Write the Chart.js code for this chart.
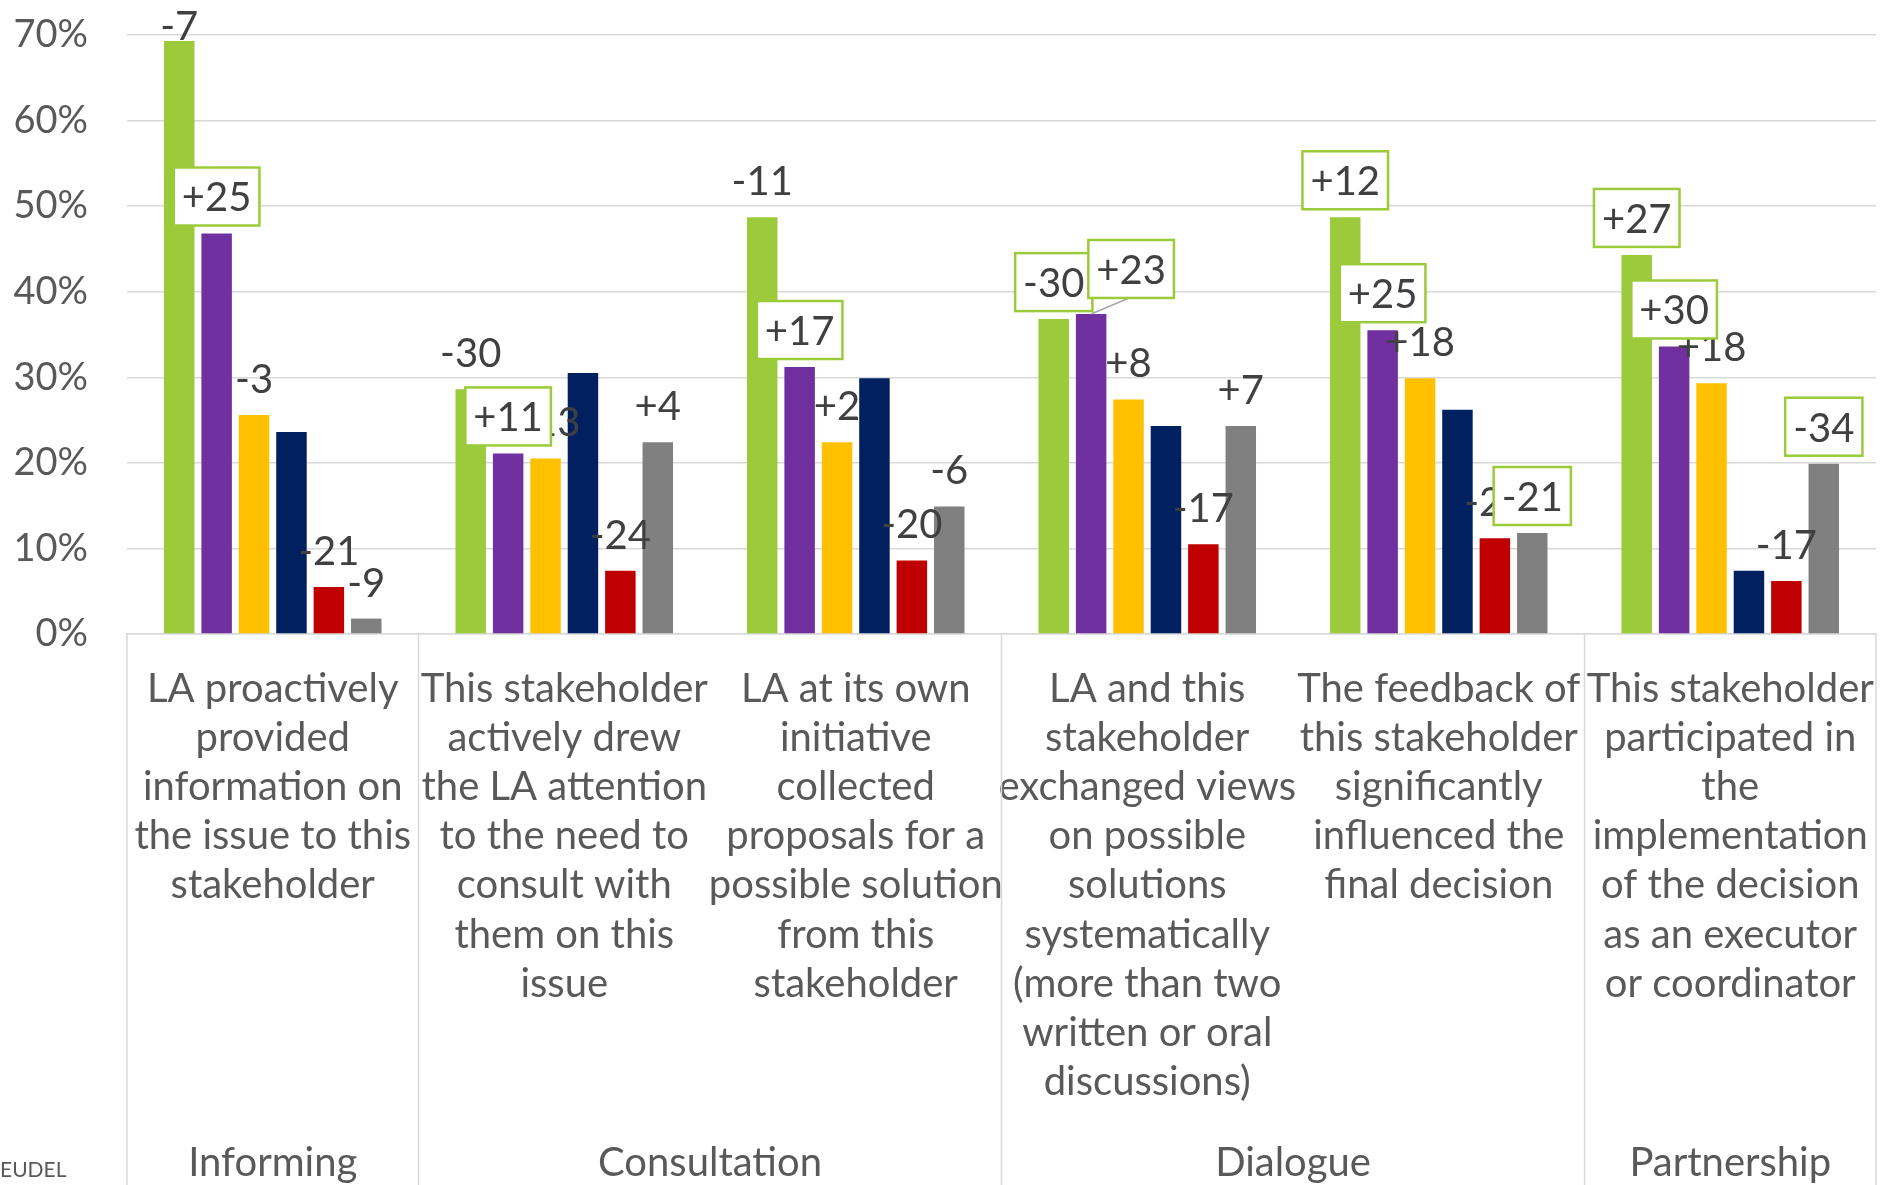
<!DOCTYPE html>
<html>
<head>
<meta charset="utf-8">
<script src="https://cdn.jsdelivr.net/npm/chart.js@4.4.0/dist/chart.umd.min.js"></script>
<style>
  html, body { margin: 0; padding: 0; background: #fff; }
  #wrap { width: 1882px; height: 1185px; position: relative; }
</style>
</head>
<body>
<div id="wrap"><canvas id="stakeholderChart"></canvas></div>
<script>
const categories = [
  ['LA proactively', 'provided', 'information on', 'the issue to this', 'stakeholder'],
  ['This stakeholder', 'actively drew', 'the LA attention', 'to the need to', 'consult with', 'them on this', 'issue'],
  ['LA at its own', 'initiative', 'collected', 'proposals for a', 'possible solution', 'from this', 'stakeholder'],
  ['LA and this', 'stakeholder', 'exchanged views', 'on possible', 'solutions', 'systematically', '(more than two', 'written or oral', 'discussions)'],
  ['The feedback of', 'this stakeholder', 'significantly', 'influenced the', 'final decision'],
  ['This stakeholder', 'participated in', 'the', 'implementation', 'of the decision', 'as an executor', 'or coordinator']
];

const groupNames = ['Informing', 'Consultation', 'Dialogue', 'Partnership'];
const groupSpans = [[0, 0], [1, 2], [3, 4], [5, 5]];

const yTicks = [0, 10, 20, 30, 40, 50, 60, 70];

// share of answers (%) per stakeholder series
const series1Values = [69.3, 28.6, 48.7, 36.8, 48.7, 44.3];
const series2Values = [46.8, 21.1, 31.2, 37.4, 35.5, 33.6];
const series3Values = [25.6, 20.5, 22.4, 27.4, 29.9, 29.3];
const series4Values = [23.6, 30.5, 29.9, 24.3, 26.2, 7.4];
const series5Values = [5.5, 7.4, 8.6, 10.5, 11.2, 6.2];
const series6Values = [1.8, 22.4, 14.9, 24.3, 11.8, 19.9];

// change in points shown above the bars
const series1Changes = ['-7', '-30', '-11', '-30', '+12', '+27'];
const series2Changes = ['+25', '+11', '+17', '+23', '+25', '+30'];
const series3Changes = ['-3', '+13', '+2', '+8', '+18', '+18'];
const series4Changes = [null, null, null, null, null, null];
const series5Changes = ['-21', '-24', '-20', '-17', '-23', '-17'];
const series6Changes = ['-9', '+4', '-6', '+7', '-21', '-34'];

const colors = {
  green: '#9BCB3B',
  purple: '#7030A0',
  yellow: '#FFC000',
  navy: '#002060',
  red: '#C00000',
  gray: '#808080',
  grid: '#D9D9D9',
  axisText: '#595959',
  labelText: '#404040'
};

const fontFamily = "Lato, 'Gill Sans', sans-serif";

// labels drawn inside a green frame: dataset index -> category indexes
const framedLabels = { 0: [3, 4, 5], 1: [0, 1, 2, 3, 4, 5], 5: [4, 5] };

// Change labels above bars
const changeLabels = {
  id: 'changeLabels',
  afterDatasetsDraw(chart) {
    const ctx = chart.ctx;
    const top = chart.chartArea.top;
    const framed = [];
    ctx.save();
    ctx.font = '40px ' + fontFamily;
    ctx.textAlign = 'center';
    ctx.textBaseline = 'middle';
    ctx.fillStyle = colors.labelText;

    chart.data.datasets.forEach((ds, di) => {
      const meta = chart.getDatasetMeta(di);
      meta.data.forEach((bar, i) => {
        const txt = ds.changes[i];
        if (!txt) return;
        let x = bar.x;
        let y = Math.max(bar.y - 37, top - 10);
        const isFramed = (framedLabels[di] || []).includes(i);
        if (isFramed) {
          let leader = null;
          if (di === 1 && i === 3) {
            x += 40;
            y -= 8;
            leader = { x: bar.x, y: bar.y };
          }
          framed.push({ txt, x, y, leader });
        } else {
          ctx.fillText(txt, x, y + 2);
        }
      });
    });

    framed.forEach(f => {
      const w = ctx.measureText(f.txt).width + 16;
      const h = 58;
      if (f.leader) {
        ctx.strokeStyle = '#A6A6A6';
        ctx.lineWidth = 1.5;
        ctx.beginPath();
        ctx.moveTo(f.x - 2, f.y + h / 2);
        ctx.lineTo(f.leader.x, f.leader.y);
        ctx.stroke();
      }
      ctx.fillStyle = '#fff';
      ctx.fillRect(f.x - w / 2, f.y - h / 2, w, h);
      ctx.strokeStyle = colors.green;
      ctx.lineWidth = 2.5;
      ctx.strokeRect(f.x - w / 2, f.y - h / 2, w, h);
      ctx.fillStyle = colors.labelText;
      ctx.fillText(f.txt, f.x, f.y + 2);
    });
    ctx.restore();
  }
};

// Group row under the category labels
const groupAxis = {
  id: 'groupAxis',
  afterDraw(chart) {
    const ctx = chart.ctx;
    const xs = chart.scales.x;
    const area = chart.chartArea;
    const bottom = chart.height;
    const half = (xs.getPixelForValue(1) - xs.getPixelForValue(0)) / 2;
    ctx.save();
    ctx.strokeStyle = colors.grid;
    ctx.lineWidth = 1.5;
    const edges = [area.left];
    groupSpans.forEach(s => edges.push(xs.getPixelForValue(s[1]) + half));
    edges.forEach(ex => {
      ctx.beginPath();
      ctx.moveTo(ex, area.bottom);
      ctx.lineTo(ex, bottom);
      ctx.stroke();
    });

    ctx.font = '40px ' + fontFamily;
    ctx.fillStyle = colors.axisText;
    ctx.textAlign = 'center';
    ctx.textBaseline = 'middle';
    groupNames.forEach((name, gi) => {
      const s = groupSpans[gi];
      const cx = (xs.getPixelForValue(s[0]) + xs.getPixelForValue(s[1])) / 2;
      ctx.fillText(name, cx, 1163);
    });

    ctx.font = '21px ' + fontFamily;
    ctx.textAlign = 'left';
    ctx.fillText('EUDEL', 0, 1170);
    ctx.restore();
  }
};

function makeDataset(name, values, changes, color) {
  return {
    label: name,
    data: values,
    changes: changes,
    backgroundColor: color,
    borderWidth: 0,
    categoryPercentage: 0.77,
    barPercentage: 0.815
  };
}

function initStakeholderChart() {
  const ctx = document.getElementById('stakeholderChart');
  if (!ctx) return;

  new Chart(ctx.getContext('2d'), {
    type: 'bar',
    data: {
      labels: categories,
      datasets: [
        makeDataset('Series 1', series1Values, series1Changes, colors.green),
        makeDataset('Series 2', series2Values, series2Changes, colors.purple),
        makeDataset('Series 3', series3Values, series3Changes, colors.yellow),
        makeDataset('Series 4', series4Values, series4Changes, colors.navy),
        makeDataset('Series 5', series5Values, series5Changes, colors.red),
        makeDataset('Series 6', series6Values, series6Changes, colors.gray)
      ]
    },
    options: {
      responsive: true,
      maintainAspectRatio: false,
      devicePixelRatio: 1,
      animation: false,
      layout: {
        padding: { top: 35, right: 6, left: 0, bottom: 0 }
      },
      plugins: {
        legend: { display: false },
        tooltip: { enabled: false }
      },
      scales: {
        x: {
          grid: { display: false },
          border: { display: true, color: colors.grid, width: 1.5 },
          ticks: {
            autoSkip: false,
            maxRotation: 0,
            minRotation: 0,
            padding: 22,
            color: colors.axisText,
            font: { family: fontFamily, size: 40, lineHeight: 1.23 }
          },
          afterFit: function(scale) {
            scale.height = 551;
            scale.paddingLeft = 0;
            scale.paddingRight = 0;
          }
        },
        y: {
          min: 0,
          max: 70,
          afterBuildTicks: function(scale) {
            scale.ticks = yTicks.map(v => ({ value: v }));
          },
          grid: { color: colors.grid, lineWidth: 1.5, drawTicks: false },
          border: { display: false },
          ticks: {
            padding: 39,
            color: colors.axisText,
            font: { family: fontFamily, size: 38 },
            callback: function(value) { return value + '%'; }
          },
          afterFit: function(scale) {
            scale.width = 127;
            scale.paddingTop = 0;
            scale.paddingBottom = 0;
          }
        }
      }
    },
    plugins: [changeLabels, groupAxis]
  });
}

document.addEventListener('DOMContentLoaded', initStakeholderChart);
</script>
</body>
</html>
